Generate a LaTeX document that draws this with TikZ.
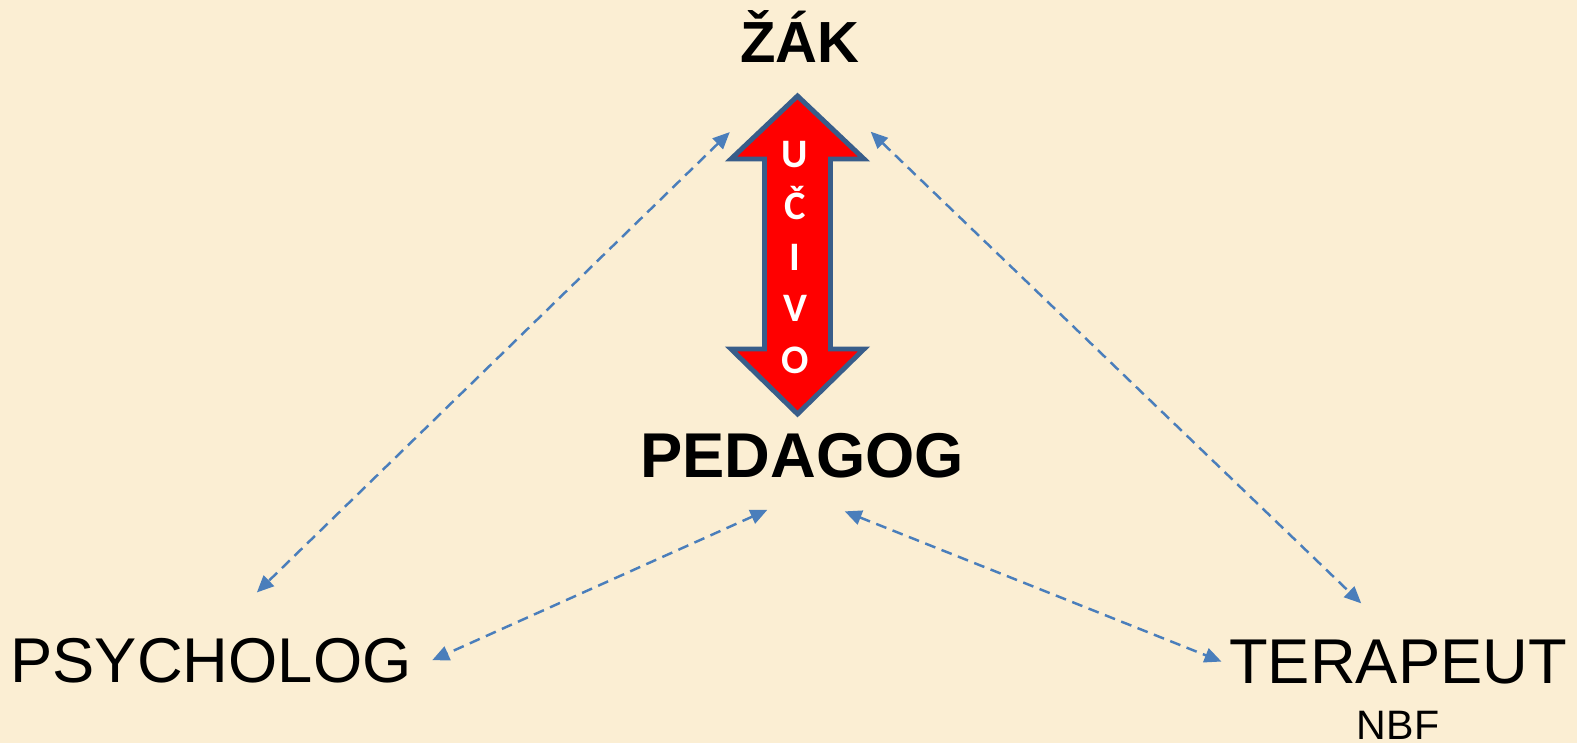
\documentclass[tikz,border=0pt]{standalone}
\usepackage{fontspec}
\setmainfont{Liberation Sans}
\newfontfamily\ucivofont{Carlito}
\usetikzlibrary{arrows.meta}
\definecolor{parchment}{HTML}{FBEED3}
\definecolor{linkblue}{HTML}{4A7EBB}
\definecolor{arrowedge}{HTML}{385D8A}

\begin{document}
\begin{tikzpicture}[x=0.01cm,y=-0.01cm,>={Triangle[length=4.8pt,width=4.2pt]},
	link/.style={<->,linkblue,line width=0.7pt,dash pattern=on 3.1pt off 1.9pt},
	role/.style={inner sep=0pt,anchor=base,font=\fontsize{18}{21}\selectfont},
	head/.style={role,font=\bfseries\fontsize{18}{21}\selectfont},
	bigarrow/.style={fill=red,draw=arrowedge,line width=1.4pt,line join=miter},
	letters/.style={inner sep=0pt,text=white,align=center,
		font=\ucivofont\bfseries\fontsize{11.5}{14.58}\selectfont}]
	\useasboundingbox (0,0) rectangle (1577,743);
	\fill[parchment] (0,0) rectangle (1577,743);
	
	\node[head,font=\bfseries\fontsize{16.5}{20}\selectfont] (zak) at (800,63) {ŽÁK};
	\node[head,inner ysep=1.6mm] (ped) at (802,477) {PEDAGOG};
	\node[role,inner xsep=2mm] (psy) at (211,682) {PSYCHOLOG};
	\node[role,inner xsep=0.7mm] (ter) at (1398,683) {TERAPEUT};
	\node[role,font=\fontsize{11.7}{14}\selectfont] (nbf) at (1398,739) {NBF};
	
	% red double arrow with the letters
	\draw[bigarrow] (797.5,96) -- (864,159) -- (830.5,159) -- (830.5,349) -- (864,349)
		-- (797.5,414) -- (731,349) -- (764.5,349) -- (764.5,159) -- (731,159) -- cycle;
	\node[letters,anchor=north] (ucivo) at (795,141) {U\\Č\\I\\V\\O};
	
	\draw[link,shorten <=9.8mm,shorten >=6.4mm] (zak.south) -- (psy.north);
	\draw[link,shorten <=9.8mm,shorten >=5.1mm] (zak.south) -- (ter.north);
	\draw[link,shorten <=3.8mm] (ped.south) -- (psy.east);
	\draw[link,shorten <=4.6mm] (ped.south) -- (ter.west);
\end{tikzpicture}
\end{document}
